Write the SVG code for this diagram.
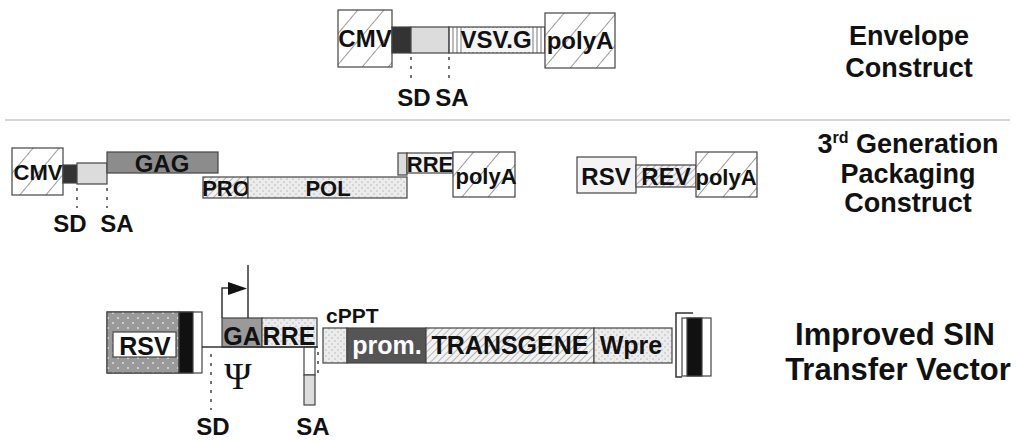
<svg xmlns="http://www.w3.org/2000/svg" width="1016" height="441" viewBox="0 0 1016 441">
<defs>
<pattern id="hatchWide" width="20" height="20" patternUnits="userSpaceOnUse" patternTransform="rotate(40)">
<rect width="20" height="20" fill="#fff"/><line x1="0" y1="0" x2="0" y2="20" stroke="#555" stroke-width="1.2"/>
</pattern>
<pattern id="hatchFine" width="5" height="5" patternUnits="userSpaceOnUse" patternTransform="rotate(45)">
<rect width="5" height="5" fill="#f2f2f2"/><line x1="0" y1="0" x2="0" y2="5" stroke="#8c8c8c" stroke-width="1.2"/>
</pattern>
<pattern id="vstripe" width="4" height="4" patternUnits="userSpaceOnUse">
<rect width="4" height="4" fill="#fff"/><line x1="1" y1="0" x2="1" y2="4" stroke="#777" stroke-width="1"/>
</pattern>
<pattern id="dots" width="6" height="6" patternUnits="userSpaceOnUse">
<rect width="6" height="6" fill="#ececec"/><circle cx="2" cy="2" r="0.7" fill="#aaa"/><circle cx="5" cy="5" r="0.7" fill="#aaa"/>
</pattern>
<pattern id="dotsGray" width="10" height="10" patternUnits="userSpaceOnUse">
<rect width="10" height="10" fill="#9a9a9a"/><circle cx="3" cy="3" r="1" fill="#e0e0e0"/><circle cx="8" cy="8" r="1" fill="#e0e0e0"/>
</pattern>
</defs>
<style>
g rect{stroke:#444;stroke-width:1.2}
text{font-family:"Liberation Sans",Arial,sans-serif;font-weight:bold;fill:#111}
.b{font-size:24px;text-anchor:middle}
.s{font-size:22px;text-anchor:middle}
.sd{font-size:24px;text-anchor:middle}
.v{font-size:25px;text-anchor:middle}
.lab{font-size:27px;text-anchor:middle}
.big{font-size:31px;text-anchor:middle}
.dash{stroke:#444;stroke-width:1.5;stroke-dasharray:3 6;fill:none}
.ln{stroke:#333;stroke-width:1.5;fill:none}
</style>
<rect x="0" y="0" width="1016" height="441" fill="#fff"/>
<line x1="5" y1="120" x2="1010" y2="120" stroke="#d4d4d4" stroke-width="2"/>

<!-- Envelope construct -->
<g id="env-cmv"><rect x="338" y="10" width="54" height="57" fill="url(#hatchWide)"/><text class="b" x="365" y="47">CMV</text></g>
<g id="env-sd"><rect x="392" y="27" width="19" height="26" fill="#333"/></g>
<g id="env-sa"><rect x="411" y="27" width="38" height="26" fill="#dcdcdc"/></g>
<g id="env-vsvg"><rect x="449" y="27" width="96" height="26" fill="url(#vstripe)"/><rect x="462" y="28" width="68" height="24" fill="#f4f4f4" style="stroke:none"/><text class="b" x="496" y="48">VSV.G</text></g>
<g id="env-polya"><rect x="545" y="13" width="70" height="55" fill="url(#hatchWide)"/><text class="b" x="580" y="49">polyA</text></g>
<g id="env-labels"><text class="sd" x="414" y="106">SD</text><text class="sd" x="452" y="106">SA</text></g>
<g id="env-title"><text class="lab" x="909" y="45">Envelope</text><text class="lab" x="909" y="77">Construct</text></g>

<!-- Packaging construct -->
<g id="pk-cmv"><rect x="12" y="148" width="51" height="47" fill="url(#hatchWide)"/><text class="s" x="38" y="180">CMV</text></g>
<g id="pk-sd"><rect x="63" y="165" width="14" height="18" fill="#333"/></g>
<g id="pk-sa"><rect x="77" y="163" width="30" height="21" fill="#dcdcdc"/></g>
<g id="pk-gag"><rect x="107" y="152" width="111" height="21" fill="#8c8c8c"/><text class="b" x="162" y="172">GAG</text></g>
<g id="pk-pro"><rect x="203" y="177" width="45" height="21" fill="url(#hatchFine)"/><text class="s" x="226" y="196">PRO</text></g>
<g id="pk-pol"><rect x="248" y="177" width="159" height="21" fill="url(#dots)"/><text class="s" x="328" y="196">POL</text></g>
<g id="pk-rre"><rect x="398" y="153" width="9" height="22" fill="#dcdcdc"/><rect x="407" y="153" width="46" height="20" fill="#f4f4f4"/><text class="s" x="430" y="172">RRE</text></g>
<g id="pk-polya"><rect x="453" y="152" width="62" height="45" fill="url(#hatchWide)"/><text class="s" x="486" y="184">polyA</text></g>
<g id="pk-labels"><text class="sd" x="70" y="232">SD</text><text class="sd" x="117" y="232">SA</text></g>
<g id="rev-rsv"><rect x="577" y="157" width="59" height="36" fill="#f4f4f4"/><text class="b" x="606" y="185">RSV</text></g>
<g id="rev-rev"><rect x="636" y="165" width="60" height="22" fill="url(#hatchFine)"/><text class="b" x="666" y="185">REV</text></g>
<g id="rev-polya"><rect x="696" y="152" width="61" height="45" fill="url(#hatchWide)"/><text class="s" x="726" y="185">polyA</text></g>
<g id="pk-title"><text class="lab" x="908" y="153">3<tspan font-size="16" dy="-10">rd</tspan><tspan dy="10"> Generation</tspan></text><text class="lab" x="908" y="183">Packaging</text><text class="lab" x="908" y="212">Construct</text></g>

<!-- Transfer vector -->
<g id="v-ltr5"><rect x="107" y="312" width="95" height="61" fill="#fff"/><rect x="107" y="312" width="72" height="61" fill="url(#dotsGray)"/><rect x="113" y="332" width="63" height="25" fill="#fff"/><rect x="179" y="312" width="14" height="61" fill="#111"/><text class="v" x="145" y="355">RSV</text></g>
<g id="v-ga"><rect x="222" y="318" width="40" height="29" fill="#9a9a9a"/><text class="v" x="242" y="345">GA</text></g>
<g id="v-rre"><rect x="262" y="318" width="55" height="29" fill="url(#dots)"/><text class="v" x="289" y="345">RRE</text></g>
<g id="v-sa"><rect x="304" y="347" width="11" height="28" fill="#fff"/><rect x="304" y="375" width="11" height="30" fill="#dcdcdc"/></g>
<g id="v-psi"><text x="238" y="389" text-anchor="middle" style="font-family:'Liberation Serif',serif;font-weight:normal;font-size:37px">Ψ</text></g>
<g id="v-cppt"><text x="326" y="323" font-size="21px">cPPT</text><rect x="323" y="328" width="24" height="35" fill="url(#dots)"/></g>
<g id="v-prom"><rect x="347" y="328" width="79" height="35" fill="#555"/><text class="v" x="387" y="354" style="fill:#fff">prom.</text></g>
<g id="v-transgene"><rect x="426" y="328" width="168" height="35" fill="url(#hatchFine)"/><text class="v" x="510" y="354">TRANSGENE</text></g>
<g id="v-wpre"><rect x="594" y="328" width="78" height="35" fill="url(#dots)"/><text class="v" x="631" y="354">Wpre</text></g>
<g id="v-ltr3"><path class="ln" d="M693 313 H676 V377 H682"/><rect x="682" y="318" width="29" height="58" fill="#fff"/><rect x="687" y="318" width="15" height="58" fill="#111"/></g>
<g id="v-labels"><text class="sd" x="213" y="435">SD</text><text class="sd" x="313" y="435">SA</text></g>
<g id="v-title"><text class="big" x="895" y="345">Improved SIN</text><text class="big" x="898" y="380">Transfer Vector</text></g>

<!-- connectors -->
<g id="connectors">
<line class="dash" x1="411" y1="57" x2="411" y2="78"/>
<line class="dash" x1="449" y1="57" x2="449" y2="78"/>
<line class="dash" x1="77" y1="188" x2="77" y2="208"/>
<line class="dash" x1="107" y1="188" x2="107" y2="208"/>
<line class="ln" x1="202" y1="347" x2="318" y2="347"/>
<path class="ln" d="M222 318 V288 H230"/>
<polygon points="228,282 247,288.5 228,295" fill="#111"/>
<line class="ln" x1="248" y1="265" x2="248" y2="318"/>
<line class="dash" x1="211" y1="354" x2="211" y2="410"/>
<line class="dash" x1="318" y1="352" x2="318" y2="374"/>
</g>
</svg>
